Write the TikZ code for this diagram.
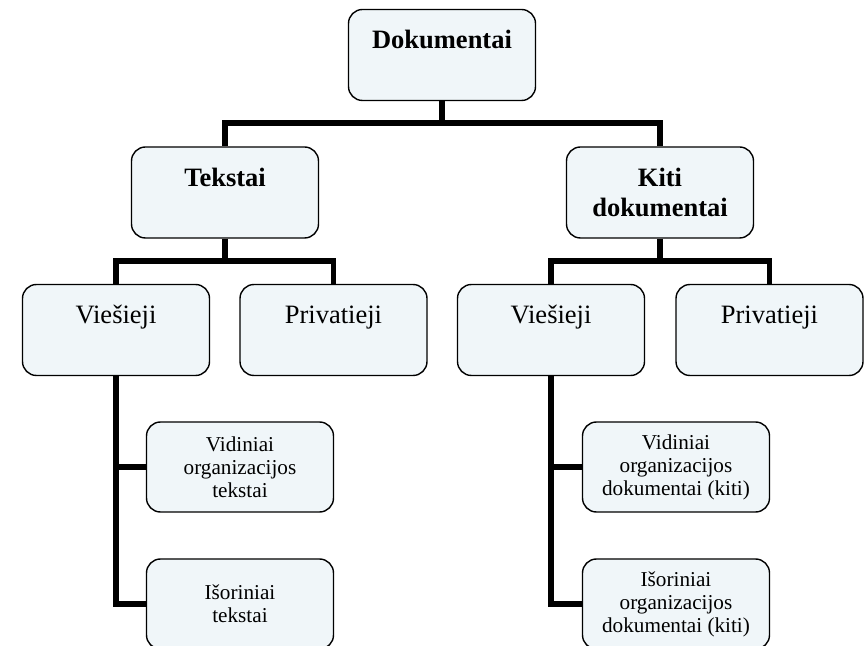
\documentclass[tikz,border=0pt]{standalone}
\usepackage{fontspec}
\setmainfont{Liberation Serif}
\definecolor{boxfill}{RGB}{240,246,249}

\begin{document}
\begin{tikzpicture}[x=0.5pt,y=-0.5pt,
  box/.style={draw, line width=0.7pt, rounded corners=7pt, fill=boxfill, align=center, minimum width=93.5pt},
  topbox/.style={box, font=\fontsize{13.25}{15}\selectfont, minimum height=45.5pt},
  onerow/.style={text height=9.5pt, text depth=15.5pt},
  leafbox/.style={box, font=\fontsize{10.6}{11.5}\selectfont, minimum height=45pt},
  wire/.style={line width=2.6pt}]
  \useasboundingbox (0,0) rectangle (868,646);
  % top levels
  \node[topbox,onerow,font=\fontsize{13.25}{15}\selectfont\bfseries] (dok) at (442,55) {Dokumentai};
  \node[topbox,onerow,font=\fontsize{13.25}{15}\selectfont\bfseries] (tekst) at (225,192.5) {Tekstai};
  \node[topbox,font=\fontsize{13.25}{15}\selectfont\bfseries] (kiti) at (660,192.5) {Kiti\\dokumentai};
  \node[topbox,onerow] (tviesi) at (116,330) {Viešieji};
  \node[topbox,onerow] (tpriv) at (333.5,330) {Privatieji};
  \node[topbox,onerow] (kviesi) at (551,330) {Viešieji};
  \node[topbox,onerow] (kpriv) at (769.5,330) {Privatieji};
  % leaves
  \node[leafbox] (tvid) at (240,467) {Vidiniai\\organizacijos\\tekstai};
  \node[leafbox] (tisor) at (240,604) {Išoriniai\\tekstai};
  \node[leafbox] (kvid) at (676,467) {Vidiniai\\organizacijos\\dokumentai (kiti)};
  \node[leafbox] (kisor) at (676,604) {Išoriniai\\organizacijos\\dokumentai (kiti)};
  % connectors
  \coordinate (bar0) at (442,123);
  \coordinate (bar1) at (225,261);
  \coordinate (bar2) at (660,261);
  \draw[wire] (dok.south) -- (bar0) -| (tekst.north);
  \draw[wire] (bar0) -| (kiti.north);
  \draw[wire] (tekst.south) -- (bar1) -| (tviesi.north);
  \draw[wire] (bar1) -| (tpriv.north);
  \draw[wire] (kiti.south) -- (bar2) -| (kviesi.north);
  \draw[wire] (bar2) -| (kpriv.north);
  \draw[wire] (tviesi.south) |- (tvid.west);
  \draw[wire] (tviesi.south) |- (tisor.west);
  \draw[wire] (kviesi.south) |- (kvid.west);
  \draw[wire] (kviesi.south) |- (kisor.west);
\end{tikzpicture}
\end{document}
